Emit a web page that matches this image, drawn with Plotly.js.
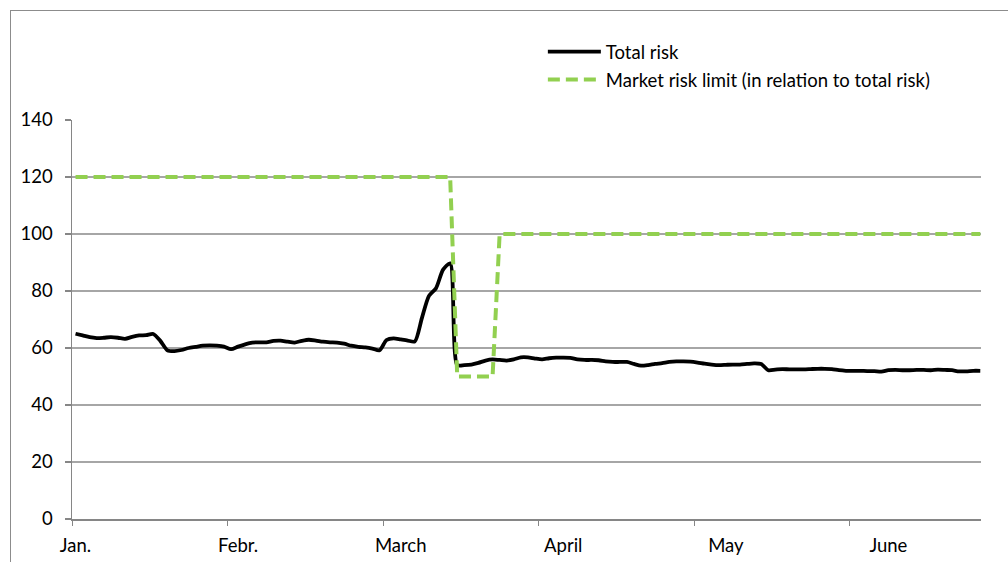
<!DOCTYPE html>
<html>
<head>
<meta charset="utf-8">
<script src="https://cdn.plot.ly/plotly-3.0.1.min.js"></script>
<style>
html,body{margin:0;padding:0;background:#fff;}
#wrap{position:relative;width:1008px;height:562px;overflow:hidden;}
#chart{position:absolute;left:0;top:0;width:1008px;height:562px;}
#frame{position:absolute;left:10px;top:10px;width:1100px;height:700px;border:1px solid #8c8c8c;pointer-events:none;}
</style>
</head>
<body>
<div id="wrap"><div id="chart"></div><div id="frame"></div></div>
<script>
// Daily values (trading days, January to June)
const totalRisk = [65.0,64.4,63.8,63.5,63.6,63.8,63.6,63.2,63.9,64.4,
  64.5,64.9,62.5,59.2,58.9,59.3,60.0,60.4,60.8,60.9,
  60.8,60.5,59.6,60.5,61.3,61.9,62.0,62.0,62.5,62.6,
  62.2,61.9,62.5,62.9,62.6,62.2,62.0,61.9,61.5,60.8,
  60.4,60.2,59.8,59.2,62.8,63.4,63.0,62.6,62.3,70.5,
  78.3,81.0,87.5,89.7,54.0,54.0,54.2,54.8,55.6,56.0,
  55.8,55.6,56.0,56.7,56.7,56.3,56.0,56.4,56.6,56.6,
  56.5,56.0,55.8,55.8,55.7,55.3,55.1,55.1,55.1,54.4,
  53.8,54.0,54.4,54.7,55.1,55.3,55.3,55.2,54.9,54.5,
  54.2,54.0,54.1,54.2,54.2,54.4,54.6,54.4,52.2,52.4,
  52.6,52.5,52.5,52.5,52.6,52.7,52.7,52.6,52.2,52.0,
  52.0,52.0,51.9,51.9,51.7,52.2,52.3,52.2,52.2,52.3,
  52.3,52.2,52.4,52.3,52.2,51.8,51.8,52.0,52.0];

const marketRiskLimit = [120,120,120,120,120,120,120,120,120,120,
  120,120,120,120,120,120,120,120,120,120,
  120,120,120,120,120,120,120,120,120,120,
  120,120,120,120,120,120,120,120,120,120,
  120,120,120,120,120,120,120,120,120,120,
  120,120,120,120,50,50,50,50,50,50,
  100,100,100,100,100,100,100,100,100,100,
  100,100,100,100,100,100,100,100,100,100,
  100,100,100,100,100,100,100,100,100,100,
  100,100,100,100,100,100,100,100,100,100,
  100,100,100,100,100,100,100,100,100,100,
  100,100,100,100,100,100,100,100,100,100,
  100,100,100,100,100,100,100,100,100];

const monthLabels = ['Jan.','Febr.','March','April','May','June'];
const monthLabelDay = [0,23,46,69,92,115];
const monthStartDay = [-0.5,21.5,43.5,65.5,87.5,109.5];
const yTicks = [0,20,40,60,80,100,120,140];

const days = totalRisk.map((v,i)=>i);

const FONT = 'Lato, "Liberation Sans", Arial, sans-serif';
const FS = 18.5;
const AXC = '#868686';

const traces = [
  {x: days, y: totalRisk, type:'scatter', mode:'lines', name:'Total risk',
   legendgroup:'a', line:{color:'#000000', width:3.8, shape:'spline', smoothing:0.7}},
  {x: days, y: marketRiskLimit, type:'scatter', mode:'lines',
   name:'Market risk limit (in relation to total risk)',
   legendgroup:'b', line:{color:'#92D050', width:4, dash:'12px,6px'}}
];

const layout = {
  width:1008, height:562,
  margin:{l:72, r:27, t:120, b:43},
  paper_bgcolor:'rgba(0,0,0,0)', plot_bgcolor:'rgba(0,0,0,0)',
  font:{family:FONT, size:FS, color:'#000'},
  showlegend:true,
  legend:{x:0.518, xanchor:'left', y:1.218, yanchor:'top', bgcolor:'rgba(0,0,0,0)',
          font:{family:FONT, size:FS, color:'#000'}, tracegroupgap:1, itemwidth:53},
  xaxis:{range:[-0.5,128.1], showgrid:false, zeroline:false,
         showline:true, linecolor:AXC, linewidth:1.5,
         tickmode:'array', tickvals:monthLabelDay, ticktext:monthLabels, ticks:'',
         ticklabelstandoff:9,
         minor:{tickmode:'array', tickvals:monthStartDay, ticks:'outside', ticklen:5, tickwidth:1, tickcolor:AXC, showgrid:false}},
  yaxis:{range:[0,140], tickmode:'array', tickvals:yTicks, showgrid:true, gridcolor:'#a6a6a6', gridwidth:1.3,
         zeroline:false, showline:true, linecolor:AXC, linewidth:1.5,
         ticks:'outside', ticklen:6, tickcolor:AXC, tickwidth:1.3, ticklabelstandoff:8}
};

Plotly.newPlot('chart', traces, layout, {displayModeBar:false, staticPlot:true});
</script>
</body>
</html>
